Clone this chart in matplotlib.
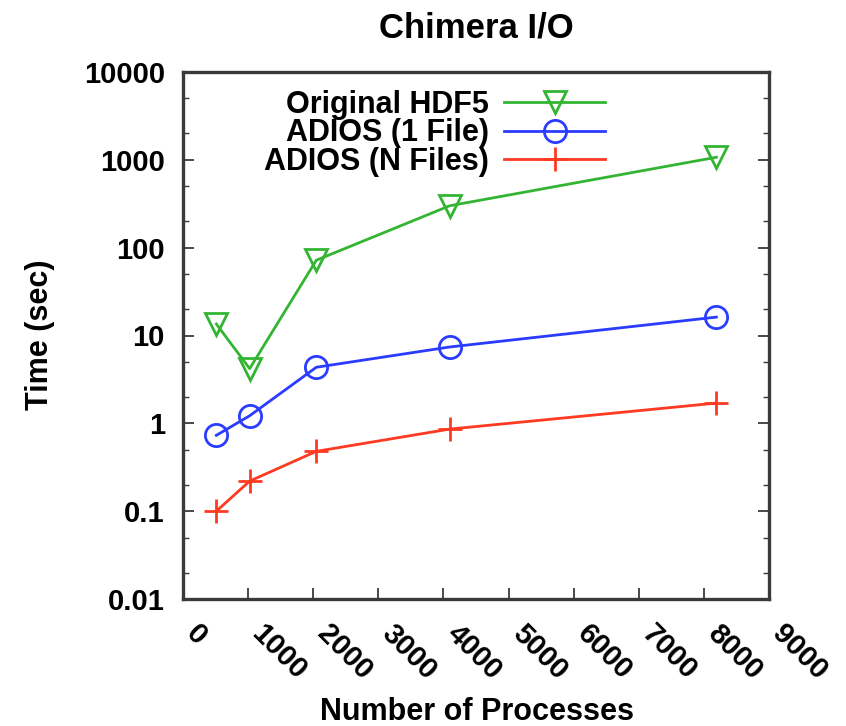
import matplotlib
matplotlib.use("Agg")
import matplotlib.pyplot as plt
from matplotlib.ticker import FixedLocator, FuncFormatter
from matplotlib.transforms import ScaledTranslation

procs = [512, 1024, 2048, 4096, 8192]
hdf5 = [13.5, 4.2, 72, 300, 1070]
adios_one = [0.73, 1.22, 4.35, 7.4, 16.2]
adios_n = [0.10, 0.22, 0.48, 0.86, 1.70]

xticks = [0, 1000, 2000, 3000, 4000, 5000, 6000, 7000, 8000, 9000]
yticks = [0.01, 0.1, 1, 10, 100, 1000, 10000]

plt.rcParams['font.family'] = ['Liberation Sans', 'DejaVu Sans']
plt.rcParams['font.weight'] = 'bold'

green = '#33b533'
blue = '#2a3cff'
red = '#ff3a22'
frame = '#3a3a3a'

fig = plt.figure(figsize=(8.46, 7.26), dpi=100)
ax = fig.add_axes([183/846, 1 - 599/726, (769-183)/846, (599-72)/726])

ax.plot(procs, hdf5, color=green, lw=2, marker='v', ms=16, mfc='none', mew=2,
        label='Original HDF5')
ax.plot(procs, adios_one, color=blue, lw=2, marker='o', ms=16, mfc='none', mew=2,
        label='ADIOS (1 File)')
ax.plot(procs, adios_n, color=red, lw=2, marker='+', ms=17, mew=2,
        label='ADIOS (N Files)')

ax.set_yscale('log')
ax.set_ylim(0.01, 10000)
ax.set_xlim(0, 9000)

ax.xaxis.set_major_locator(FixedLocator(xticks))
ax.yaxis.set_major_locator(FixedLocator(yticks))
minors = [m * 10.0**e for e in range(-2, 4) for m in (2, 5)]
ax.yaxis.set_minor_locator(FixedLocator(minors))
ax.yaxis.set_major_formatter(FuncFormatter(lambda v, p: '%g' % v))
ax.xaxis.set_minor_locator(FixedLocator([]))

ax.tick_params(axis='y', which='both', direction='in', left=True, right=True,
               colors=frame, labelcolor='black', labelsize=21, pad=13)
ax.tick_params(axis='y', which='major', length=8, width=1.3)
ax.tick_params(axis='y', which='minor', length=4, width=1.0)
ax.tick_params(axis='x', which='major', direction='in', bottom=True, top=False,
               length=8, width=1.3, colors=frame, labelcolor='black',
               labelsize=21, pad=22)
shift = ScaledTranslation(0.08, 0, fig.dpi_scale_trans)
for lab in ax.get_xticklabels():
    lab.set_rotation(-45)
    lab.set_ha('left')
    lab.set_va('center')
    lab.set_rotation_mode('anchor')
    lab.set_transform(lab.get_transform() + shift)

for s in ax.spines.values():
    s.set_linewidth(2.4)
    s.set_color(frame)

ax.set_title('Chimera I/O', fontsize=25, fontweight='bold', pad=25)
fig.text(477/846, 1 - 712/726, 'Number of Processes', fontsize=22,
         fontweight='bold', ha='center', va='center')
fig.text(40/846, 1 - 335/726, 'Time (sec)', fontsize=22, fontweight='bold',
         ha='center', va='center', rotation=90)

leg = ax.legend(loc='upper right', bbox_to_anchor=(0.72, 0.966), frameon=False,
                markerfirst=False, fontsize=22, handlelength=3.3,
                handletextpad=0.5, labelspacing=-0.05, borderpad=0,
                borderaxespad=0)

fig.savefig('out.png', dpi=100)
